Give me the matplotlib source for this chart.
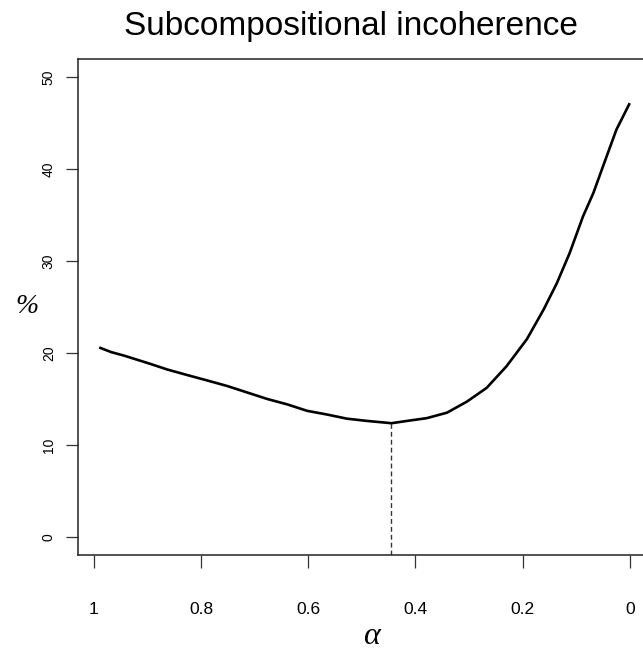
'''
Plots the subcompositional incoherence (%) against alpha
'''

import matplotlib
matplotlib.use('Agg')
import matplotlib.pyplot as plt

# values
alpha = [0.99, 0.968, 0.943, 0.924, 0.894, 0.863, 0.826, 0.788, 0.751, 0.714,
         0.677, 0.639, 0.602, 0.565, 0.528, 0.490, 0.453, 0.445, 0.416, 0.379,
         0.341, 0.304, 0.267, 0.230, 0.192, 0.161, 0.136, 0.112, 0.087, 0.068,
         0.050, 0.025, 0.0]
incoherence = [20.6, 20.1, 19.7, 19.35, 18.8, 18.2, 17.6, 17.0, 16.4, 15.7,
               15.0, 14.4, 13.7, 13.3, 12.85, 12.6, 12.4, 12.35, 12.6, 12.9,
               13.5, 14.7, 16.2, 18.55, 21.5, 24.7, 27.6, 30.9, 34.9, 37.4,
               40.3, 44.3, 47.2]
best_alpha = 0.445
best_value = 12.35

x_ticks = [1, 0.8, 0.6, 0.4, 0.2, 0]
x_tick_labels = ['1', '0.8', '0.6', '0.4', '0.2', '0']
y_ticks = [0, 10, 20, 30, 40, 50]

plt.rcParams['font.family'] = ['Liberation Sans', 'DejaVu Sans']

fig = plt.figure(figsize=(6.43, 6.53), dpi=100)
ax = fig.add_axes([0.1213, 0.150, 0.8911, 0.7596])

# the curve and the dashed drop at the minimum
ax.plot(alpha, incoherence, color='black', linewidth=1.9, solid_capstyle='butt')
ax.vlines(best_alpha, -2, best_value, colors='#333333', linestyles=(0, (3.5, 2.2)),
          linewidth=1.0)

ax.set_xlim(1.0296, -0.0396)
ax.set_ylim(-2, 52)

ax.set_xticks(x_ticks)
ax.set_xticklabels(x_tick_labels, fontsize=12.5)
ax.set_yticks(y_ticks)
ax.set_yticklabels([str(v) for v in y_ticks], fontsize=10, rotation=90, va='center')
ax.tick_params(axis='x', length=9, width=0.9, pad=25, color='#333333')
ax.tick_params(axis='y', length=9, width=0.9, pad=7, color='#333333')

for side in ['left', 'top', 'bottom']:
    ax.spines[side].set_linewidth(1.1)
    ax.spines[side].set_color('#222222')
ax.spines['right'].set_visible(False)

# titles and axis names
fig.text(0.546, 0.946, 'Subcompositional incoherence', fontsize=24,
         ha='center', va='baseline')
fig.text(0.577, 0.014, 'α', fontsize=23, ha='center', va='baseline',
         family=['Liberation Serif', 'DejaVu Serif'], style='italic')
fig.text(0.042, 0.53, '%', fontsize=20, ha='center', va='center',
         family=['Liberation Serif', 'DejaVu Serif'], style='italic')

fig.savefig('out.png', dpi=100)
